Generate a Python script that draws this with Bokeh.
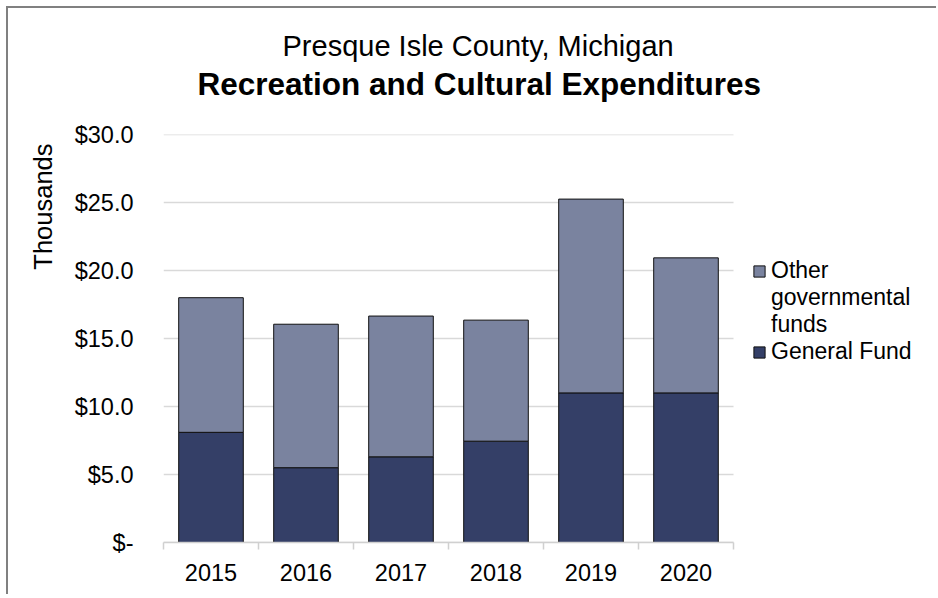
from bokeh.plotting import figure
from bokeh.models import (ColumnDataSource, FixedTicker, Range1d, Legend,
                          LegendItem, Title)
from bokeh.embed import file_html
from bokeh.resources import INLINE

# ---- data (thousands of dollars) ----
years = ["2015", "2016", "2017", "2018", "2019", "2020"]
general_fund = [8.1, 5.5, 6.3, 7.45, 11.0, 11.0]
other_funds = [9.9, 10.55, 10.35, 8.9, 14.25, 9.93]
y_ticks = [0, 5, 10, 15, 20, 25, 30]
y_tick_labels = ["$-", "$5.0", "$10.0", "$15.0", "$20.0", "$25.0", "$30.0"]
legend_labels = ["Other", "governmental\nfunds", "General Fund"]

FONT = "Liberation Sans"
DARK = "#343F67"
LIGHT = "#7A839F"
GRID = "#D9D9D9"

# layout: bars occupy the left 570px of the plot area; the legend
# sits in the remaining space on the right
BAR_AREA_PX = 570
FRAME_PX = 775
n = len(years)
x_end = -0.5 + n * FRAME_PX / BAR_AREA_PX

x_idx = list(range(n))
source = ColumnDataSource(dict(x=x_idx, general=general_fund, other=other_funds))
grid_src = ColumnDataSource(dict(y=y_ticks, x0=[-0.5] * len(y_ticks),
                                 x1=[n - 0.5] * len(y_ticks)))

p = figure(width=930, height=588,
           x_range=Range1d(-0.5, x_end), y_range=Range1d(0, 30),
           output_backend="svg", toolbar_location=None,
           min_border_left=155, min_border_right=0,
           min_border_top=126, min_border_bottom=54)
p.styles = {"margin-left": "8px", "margin-top": "8px",
            "box-shadow": "-2px -2px 0 0 #808080"}
p.outline_line_color = None
p.background_fill_color = "white"
p.border_fill_color = "white"

# horizontal gridlines limited to the bar area
p.segment(x0="x0", x1="x1", y0="y", y1="y", source=grid_src,
          line_color=GRID, line_width=1.5)

renderers = p.vbar_stack(["general", "other"], x="x", width=0.68, source=source,
                         fill_color=[DARK, LIGHT], line_color="#111111", line_width=1)
# invisible renderer used only for the wrapped legend continuation line
blank = p.vbar(x=[], top=[], width=0.68, fill_alpha=0, line_alpha=0)

# titles (outermost: county name)
p.title.text = "Presque Isle County, Michigan"
p.title.text_font = FONT
p.title.text_font_size = "29px"
p.title.text_font_style = "normal"
p.title.align = "left"
p.title.offset = 119
p.title.standoff = 4
p.title.text_color = "black"

# blank spacer between the plot area and the bold title
p.add_layout(Title(text=" ", text_font=FONT, text_font_size="1px",
                   standoff=30), "above")
p.add_layout(Title(text="Recreation and Cultural Expenditures", text_font=FONT,
                   text_font_size="31.5px", text_font_style="bold",
                   align="left", offset=34, standoff=0, text_color="black"),
             "above")

# y axis title, placed toward the top as in the original
p.add_layout(Title(text="Thousands", text_font=FONT, text_font_size="25.5px",
                   text_font_style="normal", align="right", offset=9,
                   standoff=30, text_color="black"), "left")

# y axis
p.yaxis.ticker = FixedTicker(ticks=y_ticks)
p.yaxis.major_label_overrides = {t: l for t, l in zip(y_ticks, y_tick_labels)}
p.yaxis.axis_line_color = None
p.yaxis.major_tick_line_color = None
p.yaxis.minor_tick_line_color = None
p.yaxis.major_tick_out = 0
p.yaxis.major_tick_in = 0
p.yaxis.major_label_standoff = 30
p.yaxis.major_label_text_font = FONT
p.yaxis.major_label_text_font_size = "23.5px"
p.yaxis.major_label_text_color = "black"

# x axis
xax = p.xaxis[0]
xax.ticker = FixedTicker(ticks=x_idx, minor_ticks=[i - 0.5 for i in range(n + 1)])
xax.bounds = (-0.5, n - 0.5)
xax.major_label_overrides = {i: y for i, y in zip(x_idx, years)}
xax.axis_line_color = "#D0D0D0"
xax.axis_line_width = 1.5
xax.major_tick_line_color = None
xax.major_tick_out = 0
xax.major_tick_in = 0
xax.minor_tick_line_color = "#D0D0D0"
xax.minor_tick_line_width = 1.5
xax.minor_tick_out = 7
xax.minor_tick_in = 0
xax.major_label_standoff = 14
xax.major_label_text_font = FONT
xax.major_label_text_font_size = "23.5px"
xax.major_label_text_color = "black"

p.xgrid.grid_line_color = None
p.ygrid.grid_line_color = None

# legend (inside the right part of the plot area)
legend = Legend(items=[LegendItem(label=legend_labels[0], renderers=[renderers[1]]),
                       LegendItem(label=legend_labels[1], renderers=[blank]),
                       LegendItem(label=legend_labels[2], renderers=[renderers[0]])],
                location=(589, 177))
legend.label_text_font = FONT
legend.label_text_font_size = "23px"
legend.label_text_color = "black"
legend.label_text_line_height = 1.2
legend.glyph_width = 14
legend.glyph_height = 14
legend.label_standoff = 5
legend.spacing = 0
legend.padding = 0
legend.margin = 0
legend.border_line_color = None
legend.background_fill_alpha = 0
p.add_layout(legend)

open("out.html", "w").write(file_html(p, INLINE))
